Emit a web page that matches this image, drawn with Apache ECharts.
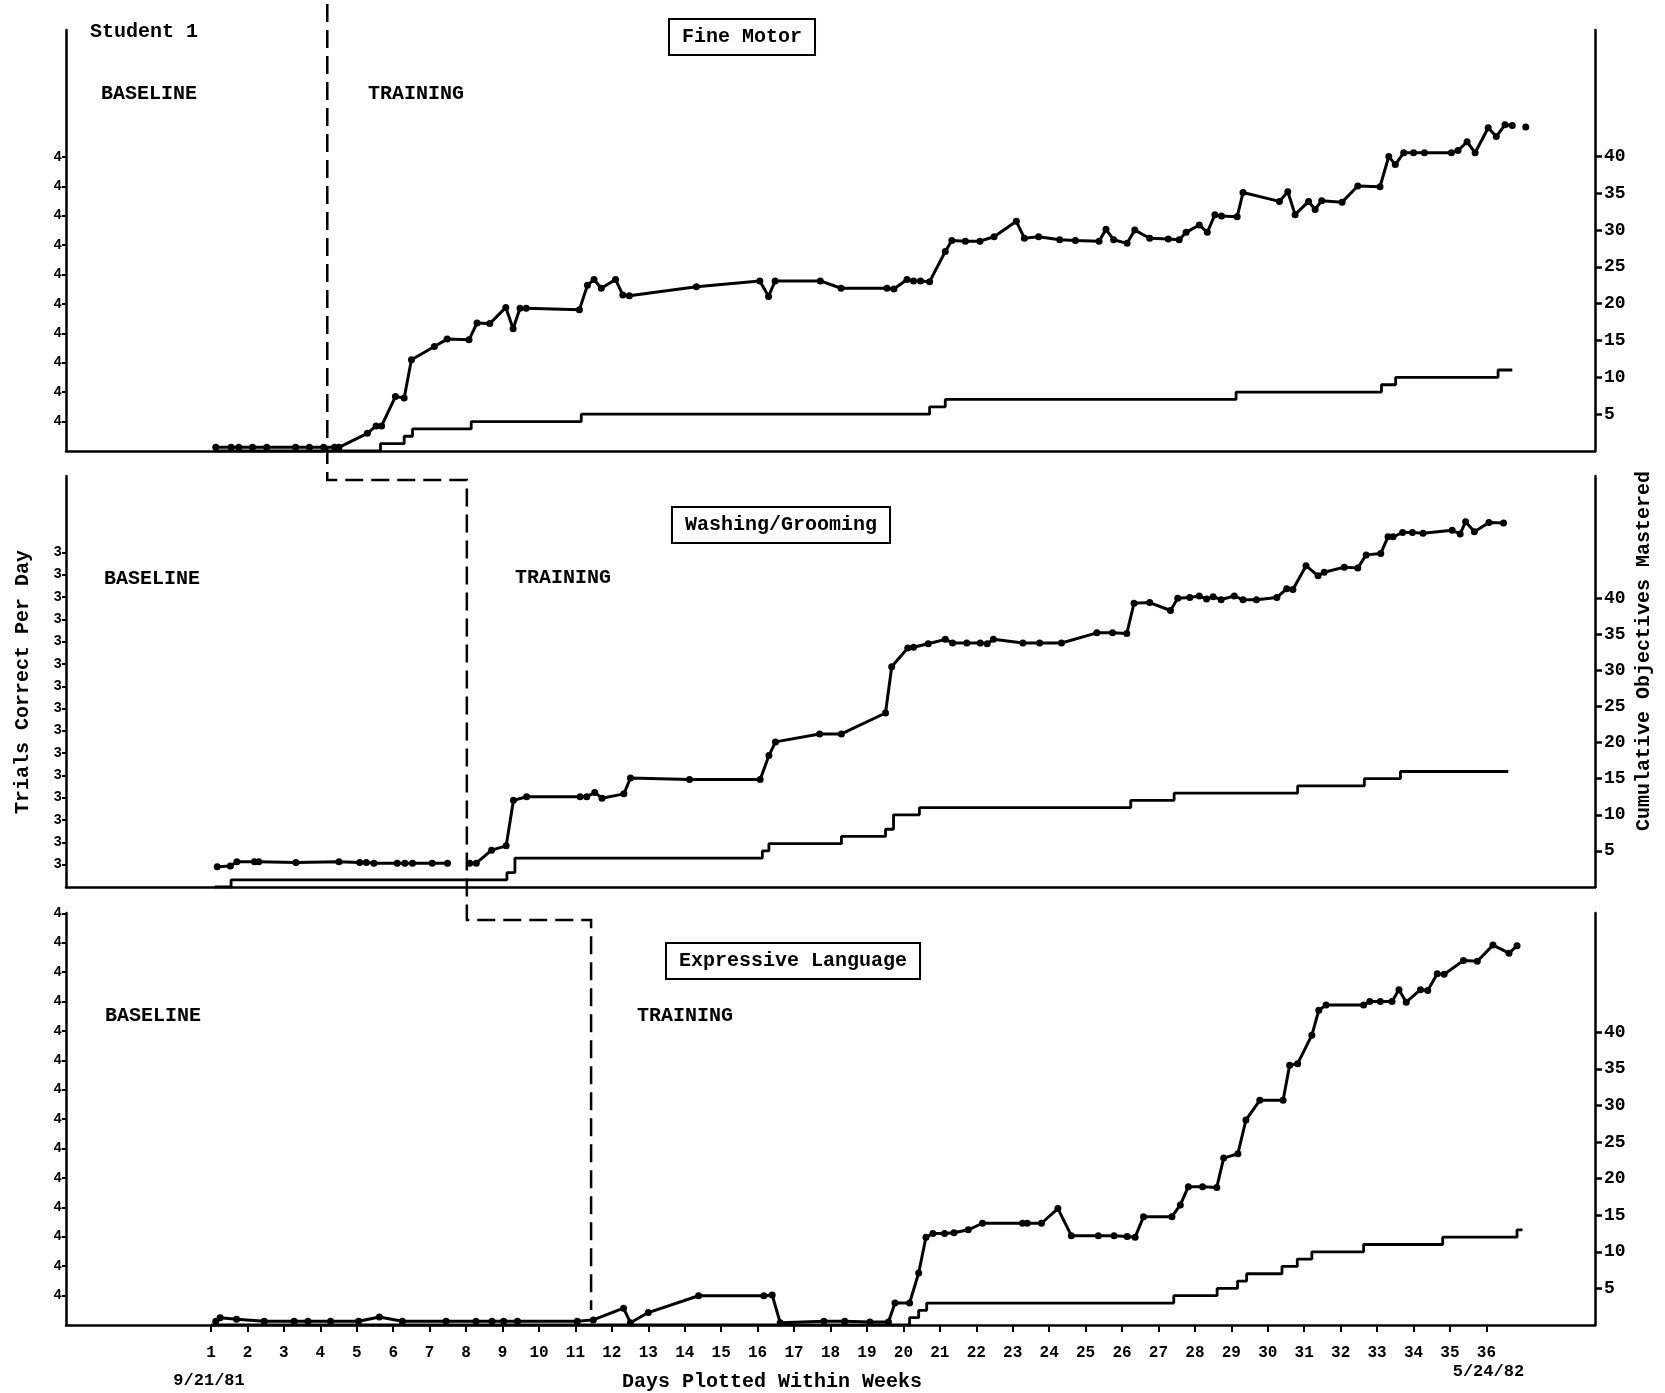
<!DOCTYPE html>
<html><head><meta charset="utf-8">
<script src="https://cdn.jsdelivr.net/npm/echarts@6/dist/echarts.min.js"></script>
<style>html,body{margin:0;padding:0;background:#fff}#c{width:1665px;height:1393px}</style>
</head><body><div id="c"></div><script>
// ---------- DATA (x = week position, y = value on the right-hand scale) ----------
const weekTicks = [1,2,3,4,5,6,7,8,9,10,11,12,13,14,15,16,17,18,19,20,21,22,23,24,25,26,27,28,29,30,31,32,33,34,35,36];
const objectiveTicks = [5,10,15,20,25,30,35,40];
const panelTitles = ['Fine Motor', 'Washing/Grooming', 'Expressive Language'];
const leftTickLabels = ['4', '3', '4'];
const leftTickCounts = [10, 15, 14];
const phaseChangeWeeks = [4.19, 8.02, 11.43];

const fineMotorTrials = [
 [1.13,0.5],[1.55,0.5],[1.76,0.5],[2.14,0.5],[2.53,0.5],[3.32,0.5],[3.70,0.5],[4.09,0.5],[4.39,0.5],[4.51,0.5],
 [5.29,2.4],[5.53,3.4],[5.68,3.4],[6.06,7.4],[6.30,7.2],[6.50,12.4],[7.13,14.2],[7.48,15.2],[8.08,15.1],[8.30,17.4],
 [8.65,17.3],[9.09,19.5],[9.29,16.6],[9.48,19.4],[9.65,19.4],[11.11,19.2],[11.33,22.5],[11.51,23.3],[11.71,22.1],[12.10,23.3],
 [12.30,21.2],[12.48,21.1],[14.32,22.3],[16.06,23.1],[16.30,21.0],[16.48,23.1],[17.72,23.1],[18.29,22.1],
 [19.55,22.1],[19.74,22.0],[20.10,23.3],[20.28,23.1],[20.47,23.1],[20.72,23.0],[21.15,27.1],[21.33,28.6],[21.70,28.5],[22.10,28.5],
 [22.49,29.1],[23.10,31.2],[23.32,28.9],[23.71,29.1],[24.29,28.7],[24.72,28.6],[25.37,28.5],[25.56,30.1],[25.77,28.7],[26.14,28.2],
 [26.35,30.0],[26.76,28.9],[27.27,28.8],[27.57,28.7],[27.76,29.7],[28.12,30.7],[28.34,29.7],[28.55,32.1],[28.73,31.9],[29.16,31.8],
 [29.32,35.1],[30.32,33.9],[30.55,35.2],[30.75,32.1],[31.12,33.9],[31.30,32.8],[31.48,34.0],[32.04,33.8],[32.47,36.0],[33.08,35.9],
 [33.32,40.0],[33.50,38.9],[33.73,40.5],[34.00,40.5],[34.30,40.5],[35.04,40.5],[35.22,40.8],[35.47,42.0],[35.69,40.5],[36.05,43.9],
 [36.27,42.7],[36.51,44.3],[36.71,44.2],null,[37.08,44.0]
];
const fineMotorMastered = [
 [1.13,0],[5.65,1],[6.30,2],[6.53,3],[8.14,4],[11.16,5],[20.72,6],[21.15,7],[29.13,8],[33.12,9],[33.51,10],[36.32,11],[36.71,11]
];

const groomingTrials = [
 [1.17,2.8],[1.53,2.9],[1.71,3.5],[2.19,3.5],[2.31,3.5],[3.33,3.4],[4.51,3.5],[5.08,3.4],[5.26,3.4],[5.47,3.3],
 [6.11,3.3],[6.32,3.3],[6.53,3.3],[7.07,3.3],[7.49,3.3],null,
 [8.10,3.3],[8.28,3.3],[8.70,5.1],[9.10,5.7],[9.30,12.0],[9.66,12.5],[11.13,12.5],[11.31,12.5],[11.53,13.1],[11.73,12.3],
 [12.33,12.9],[12.51,15.1],[14.13,14.9],[16.07,14.9],[16.31,18.2],[16.49,20.1],[17.70,21.2],[18.30,21.2],
 [19.51,24.1],[19.68,30.5],[20.12,33.1],[20.28,33.2],[20.68,33.7],[21.15,34.3],[21.35,33.8],[21.74,33.8],[22.11,33.8],[22.30,33.7],
 [22.47,34.3],[23.28,33.8],[23.74,33.8],[24.34,33.8],[25.31,35.2],[25.74,35.2],[26.13,35.1],[26.33,39.3],[26.76,39.4],[27.33,38.3],
 [27.53,40.0],[27.86,40.1],[28.12,40.3],[28.32,39.9],[28.50,40.2],[28.72,39.8],[29.08,40.3],[29.32,39.8],[29.69,39.8],[30.25,40.1],
 [30.52,41.3],[30.69,41.2],[31.05,44.5],[31.38,43.1],[31.55,43.6],[32.10,44.3],[32.47,44.2],[32.70,46.0],[33.10,46.2],[33.30,48.5],
 [33.44,48.5],[33.70,49.1],[33.97,49.1],[34.26,49.0],[35.06,49.4],[35.28,48.9],[35.43,50.6],[35.67,49.2],[36.07,50.5],[36.47,50.4]
];
const groomingMastered = [
 [1.10,0],[1.55,1],[9.12,2],[9.34,4],[16.13,5],[16.31,6],[18.30,7],[19.51,8],[19.73,10],[20.44,11],[26.24,12],[27.43,13],
 [30.82,14],[32.65,15],[33.64,16],[36.60,16]
];

const languageTrials = [
 [1.13,0.5],[1.25,1.0],[1.70,0.8],[2.46,0.5],[3.28,0.5],[3.66,0.5],[4.28,0.5],[5.05,0.5],[5.62,1.1],[6.25,0.5],
 [7.45,0.5],[8.27,0.5],[8.71,0.5],[9.03,0.5],[9.41,0.5],[11.05,0.5],[11.49,0.7],[12.32,2.3],[12.51,0.3],[13.00,1.7],
 [14.38,4.0],[16.17,4.0],[16.40,4.1],[16.62,0.3],[17.82,0.5],[18.39,0.5],[19.08,0.4],[19.59,0.4],[19.77,3.0],[20.17,3.0],
 [20.42,7.1],[20.62,12.0],[20.81,12.5],[21.13,12.5],[21.39,12.6],[21.78,13.0],[22.17,13.9],[23.27,13.9],[23.40,13.9],[23.79,13.9],
 [24.24,15.9],[24.61,12.2],[25.35,12.2],[25.78,12.2],[26.14,12.1],[26.36,12.0],[26.59,14.8],[27.37,14.8],[27.60,16.4],[27.82,18.9],
 [28.21,18.9],[28.60,18.8],[28.79,22.8],[29.18,23.4],[29.40,28.0],[29.78,30.7],[30.42,30.7],[30.60,35.5],[30.82,35.7],[31.21,39.6],
 [31.40,43.0],[31.60,43.7],[32.63,43.7],[32.80,44.2],[33.09,44.2],[33.41,44.2],[33.60,45.8],[33.80,44.1],[34.19,45.8],[34.39,45.7],
 [34.65,48.0],[34.84,47.9],[35.37,49.8],[35.75,49.7],[36.18,51.9],[36.62,50.8],[36.84,51.8]
];
const languageMastered = [
 [1.00,0],[20.17,1],[20.42,2],[20.64,3],[27.42,4],[28.61,5],[29.17,6],[29.42,7],[30.39,8],[30.81,9],[31.21,10],[32.63,11],
 [34.80,12],[36.84,13],[36.99,13]
];

const trialsSeries = [fineMotorTrials, groomingTrials, languageTrials];
const masteredSeries = [fineMotorMastered, groomingMastered, languageMastered];

// ---------- LAYOUT ----------
const FONT = "'Liberation Mono','DejaVu Sans Mono',monospace";
const L = 66, R = 1595;
const panels = [
  {top: 30,  bottom: 451,  pxUnit: 7.363, pxLeft: 29.4},
  {top: 476, bottom: 887,  pxUnit: 7.22,  pxLeft: 22.3},
  {top: 913, bottom: 1325, pxUnit: 7.32,  pxLeft: 29.4}
];
const XMIN = -2.98, XMAX = 38.98;

const chart = echarts.init(document.getElementById('c'), null, {renderer: 'canvas'});
const grid = [], xAxis = [], yAxis = [], series = [];
panels.forEach((p, i) => {
  const h = p.bottom - p.top;
  grid.push({left: L, width: R - L, top: p.top, height: h, containLabel: false});
  const isBottom = i === 2;
  xAxis.push({
    gridIndex: i, type: 'value', min: XMIN, max: XMAX,
    axisLine: {show: true, onZero: false, lineStyle: {color: '#000', width: 2.5}},
    axisTick: {show: isBottom, customValues: weekTicks, length: 7, lineStyle: {color: '#000', width: 2}},
    axisLabel: {show: isBottom, customValues: weekTicks, color: '#000', fontFamily: FONT, fontWeight: 'bold', fontSize: 16, margin: 20},
    splitLine: {show: false}
  });
  // right-hand scale (data)
  yAxis.push({
    gridIndex: i, type: 'value', position: 'right', min: 0, max: h / p.pxUnit,
    axisLine: {show: true, onZero: false, lineStyle: {color: '#000', width: 2.5}},
    axisTick: {show: true, customValues: objectiveTicks, length: 7, lineStyle: {color: '#000', width: 2.5}},
    axisLabel: {customValues: objectiveTicks, color: '#000', fontFamily: FONT, fontWeight: 'bold', fontSize: 18, margin: 9},
    splitLine: {show: false}
  });
  // left-hand scale (display)
  const lt = [];
  for (let k = 1; k <= leftTickCounts[i]; k++) lt.push(k);
  yAxis.push({
    gridIndex: i, type: 'value', position: 'left', min: 0, max: h / p.pxLeft,
    axisLine: {show: true, onZero: false, lineStyle: {color: '#000', width: 2.5}},
    axisTick: {show: true, customValues: lt, length: 4, lineStyle: {color: '#000', width: 2}},
    axisLabel: {customValues: lt, formatter: () => leftTickLabels[i], color: '#000', fontFamily: FONT, fontWeight: 'bold', fontSize: 14, margin: 4},
    splitLine: {show: false}
  });
  series.push({
    type: 'line', xAxisIndex: i, yAxisIndex: 2 * i, data: trialsSeries[i],
    symbol: 'circle', symbolSize: 7, showAllSymbol: true, connectNulls: false,
    itemStyle: {color: '#000'}, lineStyle: {color: '#000', width: 3}, z: 5
  });
  series.push({
    type: 'line', xAxisIndex: i, yAxisIndex: 2 * i, data: masteredSeries[i], step: 'end',
    symbol: 'none', lineStyle: {color: '#000', width: 2.8}, z: 4
  });
});

chart.setOption({animation: false, backgroundColor: '#fff', grid, xAxis, yAxis, series});

// ---------- ANNOTATIONS ----------
function txt(text, x, y, opts) {
  opts = opts || {};
  return {
    type: 'text', x, y, rotation: opts.rotation || 0, z: 20,
    style: Object.assign({
      text, fill: '#000', fontFamily: FONT, fontWeight: 'bold', fontSize: opts.fontSize || 20,
      textAlign: opts.align || 'left', align: opts.align || 'left',
      textVerticalAlign: 'middle', verticalAlign: 'middle'
    }, opts.style || {})
  };
}
const gx = w => chart.convertToPixel({xAxisIndex: 0}, w);
const graphics = [];
graphics.push(txt('Student 1', 90, 32, {fontSize: 20}));
const labelPos = [
  [[101, 94], [368, 94]],
  [[104, 579], [515, 578]],
  [[105, 1016], [637, 1016]]
];
labelPos.forEach(lp => {
  graphics.push(txt('BASELINE', lp[0][0], lp[0][1], {fontSize: 20}));
  graphics.push(txt('TRAINING', lp[1][0], lp[1][1], {fontSize: 20}));
});
const titlePos = [[742, 37], [781, 525], [793, 961]];
panelTitles.forEach((t, i) => {
  graphics.push(txt(t, titlePos[i][0], titlePos[i][1], {
    fontSize: 20, align: 'center',
    style: {borderColor: '#000', borderWidth: 2, padding: [7, 12, 7, 12], backgroundColor: '#fff'}
  }));
});
graphics.push(txt('9/21/81', gx(weekTicks[0]) - 2, 1381, {fontSize: 17, align: 'center'}));
graphics.push(txt('5/24/82', gx(weekTicks[weekTicks.length - 1]) + 2, 1372, {fontSize: 17, align: 'center'}));
graphics.push(txt('Days Plotted Within Weeks', 772, 1382, {fontSize: 20, align: 'center'}));
graphics.push(txt('Trials Correct Per Day', 23, 682, {fontSize: 20, align: 'center', rotation: Math.PI / 2}));
graphics.push(txt('Cumulative Objectives Mastered', 1644, 651, {fontSize: 20, align: 'center', rotation: Math.PI / 2}));

// phase-change dashed staircase
const px = phaseChangeWeeks.map(gx);
const conn1 = panels[1].top + 4, conn2 = panels[2].top + 7;
const pts = [[px[0], 4], [px[0], conn1], [px[1], conn1], [px[1], conn2], [px[2], conn2], [px[2], panels[2].bottom - 15]];
graphics.push({
  type: 'polyline', z: 15, shape: {points: pts},
  style: {stroke: '#000', lineWidth: 2.5, lineDash: [18, 8], fill: null}
});
chart.setOption({graphic: graphics});
</script></body></html>
